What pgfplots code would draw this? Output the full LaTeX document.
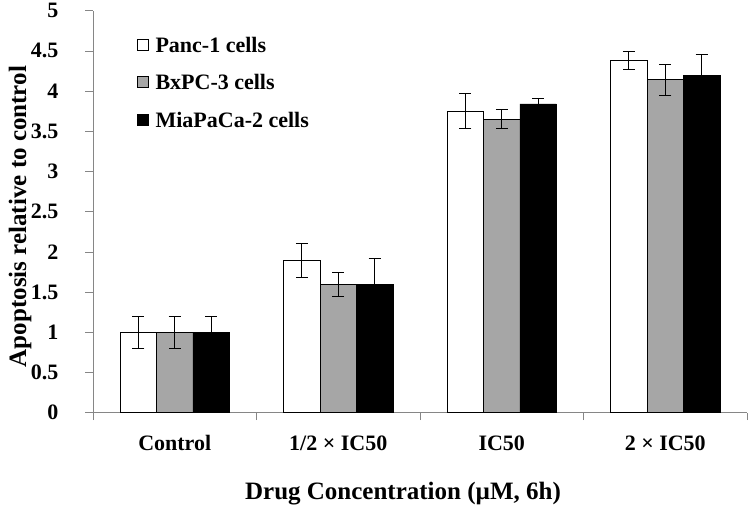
\documentclass[border=0pt]{standalone}
\usepackage{fontspec}
\setmainfont{Liberation Serif}
\usepackage{pgfplots}
\usepackage{pgfplotstable}
\pgfplotsset{compat=1.18}
\definecolor{bargray}{HTML}{A6A6A6}
\definecolor{axgray}{HTML}{868686}
\pgfplotstableread{
x y e
0 1.00 0.20
1 1.89 0.21
2 3.75 0.22
3 4.38 0.11
}\panc
\pgfplotstableread{
x y e
0 1.00 0.20
1 1.59 0.15
2 3.65 0.12
3 4.14 0.19
}\bxpc
\pgfplotstableread{
x y e
0 1.00 0.20
1 1.59 0.33
2 3.84 0.07
3 4.19 0.27
}\mia
\begin{document}
\begin{tikzpicture}
\path[use as bounding box] (-93pt,-91.3pt) rectangle (657pt,412.7pt);
\begin{axis}[
  at={(0,0)}, anchor=south west,
  scale only axis, width=654pt, height=402pt,
  ybar=0pt, bar width=0.223,
  xmin=-0.5, xmax=3.5, ymin=0, ymax=5,
  ytick={0,0.5,...,5},
  xtick={-0.5,0.5,1.5,2.5,3.5}, xticklabels={},
  extra x ticks={0,1,2,3},
  extra x tick labels={Control,1/2 × IC50,IC50,2 × IC50},
  extra x tick style={major tick length=0pt, xticklabel style={anchor=base, yshift=-38pt}},
  axis lines*=left,
  axis line style={draw=axgray, line width=0.8pt},
  tick style={draw=axgray, line width=0.8pt},
  tick align=outside, major tick length=7.5pt,
  /pgf/number format/assume math mode=true,
  ticklabel style={font=\fontsize{22}{22}\selectfont\bfseries},
  yticklabel style={anchor=east, inner sep=0pt, xshift=-27pt},
  label style={font=\fontsize{25}{27}\selectfont\bfseries},
  xlabel={Drug Concentration (µM, 6h)},
  xlabel style={at={(axis description cs:0.474,-0.2164)}, anchor=base},
  ylabel={Apoptosis relative to control},
  ylabel style={at={(axis description cs:-0.1116,0.488)}, anchor=center},
  error bars/y dir=both,
  error bars/y explicit,
  error bars/error bar style={black, line width=1.1pt},
  error bars/error mark options={rotate=90, black, mark size=6pt, line width=1.1pt},
  legend style={at={(axis description cs:0.0626,0.945)}, anchor=north west,
    draw=none, fill=none, font=\fontsize{22}{22}\selectfont\bfseries,
    row sep=18.8pt,
    nodes={font=\fontsize{22}{22}\selectfont\bfseries, text height=15pt, text depth=0pt}},
  legend cell align=left,
  legend image code/.code={\path[draw=none, fill=none] (0pt,0pt) -- (16pt,0pt); \draw[#1, draw=black, line width=0.8pt] (0pt,-5.5pt) rectangle (11pt,5.5pt);},
]
\addplot[fill=white, draw=black, line width=0.8pt] table[x=x, y=y, y error=e] {\panc};
\addplot[fill=bargray, draw=black, line width=0.8pt] table[x=x, y=y, y error=e] {\bxpc};
\addplot[fill=black, draw=black, line width=0.8pt] table[x=x, y=y, y error=e] {\mia};
\legend{Panc-1 cells, BxPC-3 cells, MiaPaCa-2 cells}
\end{axis}
\end{tikzpicture}
\end{document}
